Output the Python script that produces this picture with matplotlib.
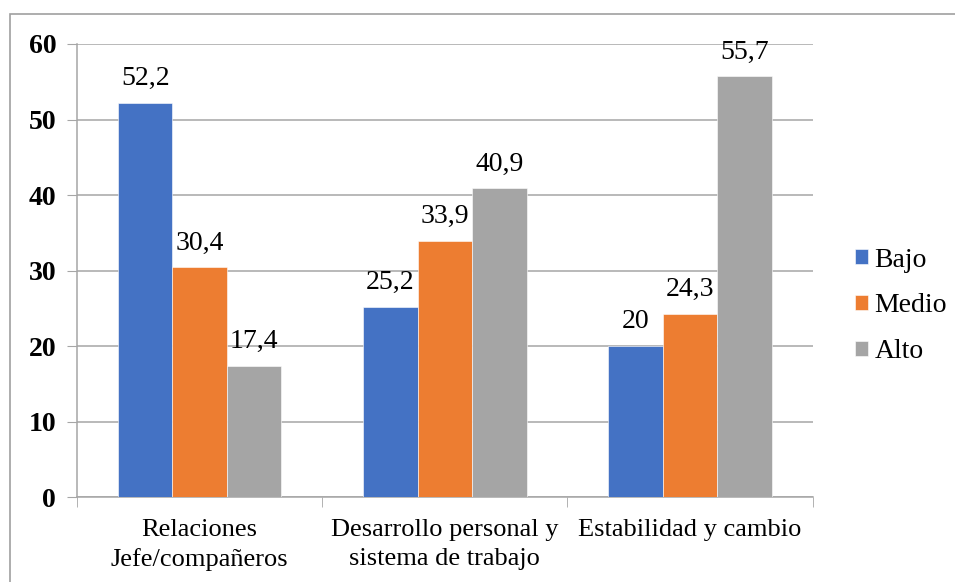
import matplotlib.pyplot as plt
import numpy as np
from matplotlib.patches import Rectangle

categories = ["Relaciones\nJefe/compañeros", "Desarrollo personal y\nsistema de trabajo", "Estabilidad y cambio"]
series_names = ["Bajo", "Medio", "Alto"]
bajo = [52.2, 25.2, 20]
medio = [30.4, 33.9, 24.3]
alto = [17.4, 40.9, 55.7]
colors = ["#4472C4", "#ED7D31", "#A5A5A5"]

plt.rcParams['font.family'] = ['Liberation Serif', 'DejaVu Serif']

fig = plt.figure(figsize=(9.55, 5.82), dpi=100)
ax = fig.add_axes([0.0806, 0.146, 0.851 - 0.0806, 0.9244 - 0.146])

# outer frame around the chart area
fig.patches.append(Rectangle((10 / 955, -0.1), 1.2, 1 - 14 / 582 + 0.1,
                             transform=fig.transFigure, fill=False,
                             edgecolor="#a0a0a0", linewidth=1.2))

x = np.arange(len(categories))
width = 0.222
for i, (vals, name) in enumerate(zip([bajo, medio, alto], series_names)):
    pos = x + (i - 1) * width
    bars = ax.bar(pos, vals, width, color=colors[i], label=name,
                  edgecolor="white", linewidth=0.4, zorder=3)
    for b, v in zip(bars, vals):
        txt = f"{v:g}".replace(".", ",")
        ax.annotate(txt, (b.get_x() + b.get_width() / 2, v),
                    xytext=(0, 8.5), textcoords="offset points",
                    ha="center", va="bottom", fontsize=20, zorder=4)

ax.set_xlim(-0.5, 2.5)
ax.set_ylim(0, 60)
ax.set_yticks(range(0, 61, 10))
ax.yaxis.grid(True, color="#a6a6a6", linewidth=1.1, zorder=0)
ax.set_axisbelow(True)

for lbl in ax.get_yticklabels():
    lbl.set_fontweight("bold")
ax.tick_params(axis="y", labelsize=20, length=7, color="#a6a6a6", pad=8)

ax.set_xticks(x)
ax.set_xticklabels(categories, fontsize=19, linespacing=1.4)
ax.tick_params(axis="x", which="major", length=0, pad=16)
ax.set_xticks([-0.5, 0.5, 1.5, 2.5], minor=True)
ax.tick_params(axis="x", which="minor", length=7, color="#a6a6a6")

for side in ["top", "right"]:
    ax.spines[side].set_visible(False)
for side in ["left", "bottom"]:
    ax.spines[side].set_color("#a6a6a6")
    ax.spines[side].set_linewidth(1.1)

ax.legend(loc="center left", bbox_to_anchor=(855 / 955, 1 - 306 / 582),
          bbox_transform=fig.transFigure, frameon=False,
          fontsize=20, handlelength=0.45, handleheight=0.45, handletextpad=0.25,
          labelspacing=0.75, borderpad=0, borderaxespad=0)

fig.savefig("out.png", dpi=100)
